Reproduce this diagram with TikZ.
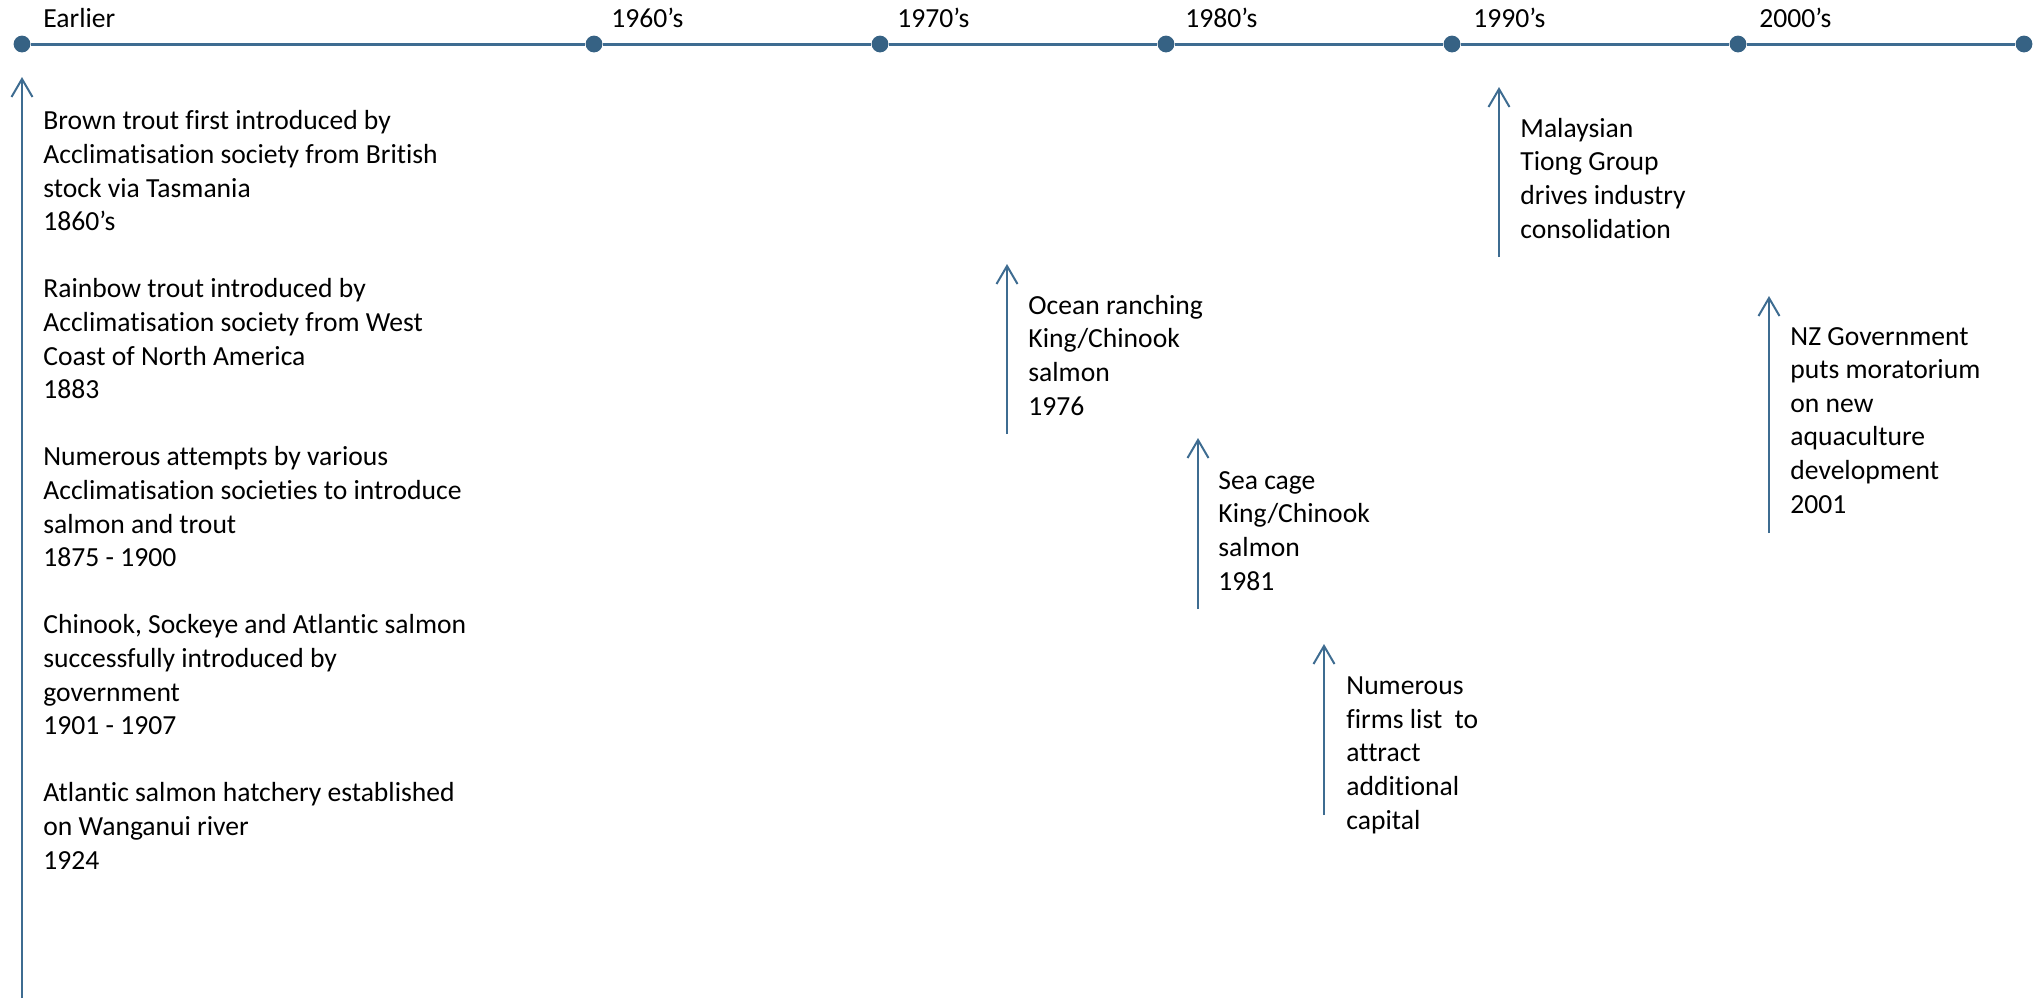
\documentclass[tikz,border=0pt]{standalone}
\usepackage{fontspec}
\setmainfont{Carlito}[Ligatures={NoCommon,NoContextual,NoRequired}]
\usetikzlibrary{arrows.meta}
\definecolor{tlblue}{RGB}{62,108,145}
\definecolor{dotblue}{RGB}{54,98,132}
\tikzset{
  dot/.style={circle,fill=dotblue,inner sep=0pt,minimum size=8.4pt},
  tline/.style={draw=tlblue,line width=1.5pt},
  evarrow/.style={draw=tlblue,line width=1pt,-{Straight Barb[length=9pt,width=10.5pt]}},
  evtext/.style={anchor=base west,align=left,inner sep=0pt,font=\fontsize{13.8pt}{16.8pt}\selectfont},
}
\begin{document}
\begin{tikzpicture}[x=0.5pt,y=-0.5pt]
\useasboundingbox (0,0) rectangle (2038,998);
% timeline
\node[dot] (d0) at (22,44) {};
\node[dot] (d1) at (594,44) {};
\node[dot] (d2) at (880,44) {};
\node[dot] (d3) at (1166,44) {};
\node[dot] (d4) at (1452,44) {};
\node[dot] (d5) at (1738,44) {};
\node[dot] (d6) at (2024,44) {};
\draw[tline] (d0)--(d1)--(d2)--(d3)--(d4)--(d5)--(d6);
\node[evtext] (l0) at (43,27) {Earlier};
\node[evtext] (l1) at (611,27) {1960’s};
\node[evtext] (l2) at (897,27) {1970’s};
\node[evtext] (l3) at (1185,27) {1980’s};
\node[evtext] (l4) at (1473,27) {1990’s};
\node[evtext] (l5) at (1759,27) {2000’s};
% events (node base = last line)
\coordinate (h0) at (22,77);
\coordinate (t0) at (22,998);
\draw[evarrow] (t0)--(h0);
\node[evtext] (e0) at ([shift={(21,792)}]h0) {Brown trout first introduced by\\
  Acclimatisation society from British\\ stock via Tasmania\\ 1860’s\\[16.8pt]
  Rainbow trout introduced by\\ Acclimatisation society from West\\
  Coast of North America\\ 1883\\[16.8pt]
  Numerous attempts by various\\ Acclimatisation societies to introduce\\
  salmon and trout\\ 1875 - 1900\\[16.8pt]
  Chinook, Sockeye and Atlantic salmon\\ successfully introduced by\\
  government\\ 1901 - 1907\\[16.8pt]
  Atlantic salmon hatchery established\\ on Wanganui river\\ 1924};
%
\coordinate (h1) at (1007,264);
\coordinate (t1) at (1007,434);
\draw[evarrow] (t1)--(h1);
\node[evtext] (e1) at ([shift={(21,151)}]h1) {Ocean ranching\\ King/Chinook\\ salmon\\ 1976};
%
\coordinate (h2) at (1198,438);
\coordinate (t2) at (1198,609);
\draw[evarrow] (t2)--(h2);
\node[evtext] (e2) at ([shift={(20,152)}]h2) {Sea cage\\ King/Chinook\\ salmon\\ 1981};
%
\coordinate (h3) at (1324,644);
\coordinate (t3) at (1324,815);
\draw[evarrow] (t3)--(h3);
\node[evtext] (e3) at ([shift={(22,185)}]h3) {Numerous\\ firms list \ to\\ attract\\ additional\\ capital};
%
\coordinate (h4) at (1499,87);
\coordinate (t4) at (1499,257);
\draw[evarrow] (t4)--(h4);
\node[evtext] (e4) at ([shift={(21,151)}]h4) {Malaysian\\ Tiong Group\\ drives industry\\ consolidation};
%
\coordinate (h5) at (1769,296);
\coordinate (t5) at (1769,533);
\draw[evarrow] (t5)--(h5);
\node[evtext] (e5) at ([shift={(21,217)}]h5) {NZ Government\\ puts moratorium\\ on new\\ aquaculture\\ development\\ 2001};
\end{tikzpicture}
\end{document}
